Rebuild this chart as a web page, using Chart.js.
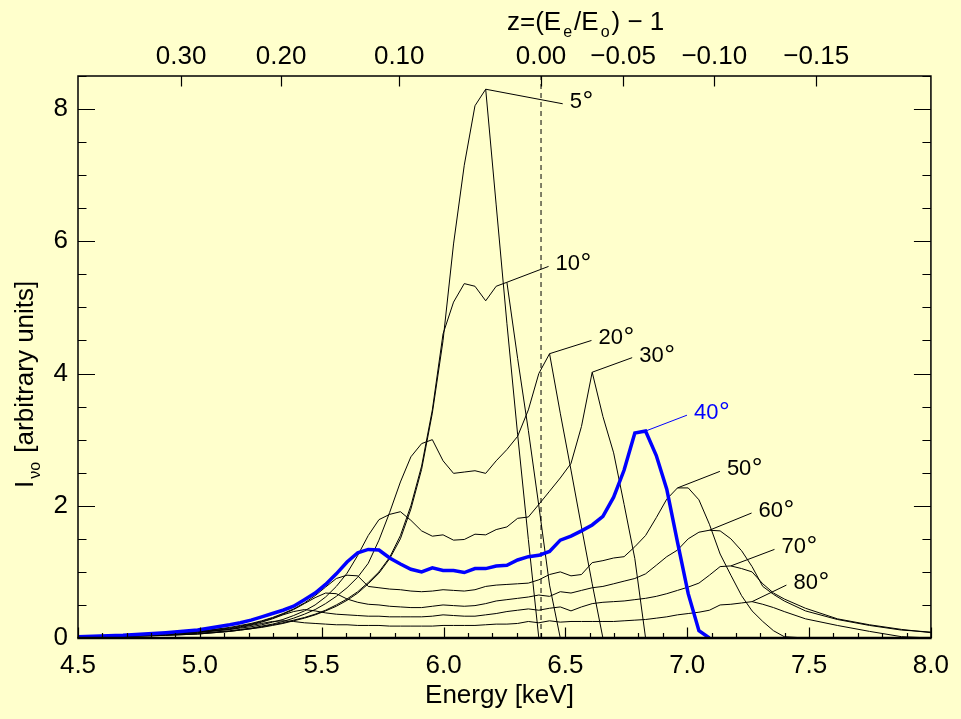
<!DOCTYPE html>
<html>
<head>
<meta charset="utf-8">
<title>Fe line profiles</title>
<script src="https://cdn.jsdelivr.net/npm/chart.js@4.4.1/dist/chart.umd.min.js"></script>
<style>
  html, body { margin: 0; padding: 0; background: #ffffcc; }
  #wrap { width: 961px; height: 719px; }
</style>
</head>
<body>
<div id="wrap"><canvas id="profiles" width="961" height="719"></canvas></div>
<script>
// energy grid [keV]
const energy = [4.5, 4.685, 4.86, 4.991,
  5.123, 5.166, 5.21, 5.254, 5.298, 5.341, 5.385, 5.429, 5.473, 5.516,
  5.56, 5.604, 5.648, 5.691, 5.735, 5.779, 5.823, 5.866, 5.91, 5.954,
  5.998, 6.041, 6.085, 6.129, 6.173, 6.216, 6.26, 6.304, 6.348, 6.391,
  6.435, 6.479, 6.523, 6.566, 6.61, 6.654, 6.698, 6.741, 6.785, 6.829,
  6.873, 6.916, 6.96, 7.004, 7.048, 7.091, 7.135, 7.179, 7.223, 7.266,
  7.31, 7.354, 7.398, 7.485, 7.616, 7.748, 7.879, 8.0];

// line intensity per inclination, each list stops where the line dies out
const deg5 = [0.01, 0.02, 0.04, 0.06,
  0.10, 0.12, 0.14, 0.16, 0.19, 0.22, 0.26, 0.30, 0.35, 0.41,
  0.48, 0.57, 0.68, 0.82, 0.98, 1.20, 1.50, 1.95, 2.55, 3.40,
  4.50, 5.96, 7.15, 8.05, 8.30, 6.55, 4.76, 3.08, 1.49, 0];
const deg10 = [0.01, 0.02, 0.04, 0.06,
  0.10, 0.12, 0.14, 0.17, 0.20, 0.23, 0.27, 0.31, 0.36, 0.42,
  0.50, 0.59, 0.70, 0.84, 1.00, 1.22, 1.55, 2.00, 2.60, 3.45,
  4.60, 5.08, 5.36, 5.32, 5.10, 5.32, 5.38, 4.23, 3.14, 2.00,
  0.80, 0];
const deg20 = [0.01, 0.03, 0.05, 0.07,
  0.11, 0.13, 0.15, 0.18, 0.21, 0.25, 0.30, 0.36, 0.43, 0.52,
  0.63, 0.76, 0.92, 1.13, 1.48, 1.90, 2.36, 2.74, 2.94, 3.00,
  2.68, 2.49, 2.51, 2.53, 2.49, 2.68, 2.85, 3.05, 3.45, 4.00,
  4.30, 3.40, 2.54, 1.68, 0.82, 0];
const deg30 = [0.01, 0.03, 0.05, 0.08,
  0.13, 0.15, 0.17, 0.20, 0.24, 0.28, 0.34, 0.41, 0.50, 0.62,
  0.78, 0.98, 1.25, 1.55, 1.79, 1.87, 1.91, 1.78, 1.62, 1.54,
  1.56, 1.48, 1.49, 1.57, 1.56, 1.64, 1.68, 1.81, 1.83, 2.02,
  2.22, 2.42, 2.64, 3.20, 4.02, 3.35, 2.80, 2.02, 1.20, 0];
const deg40 = [0.02, 0.04, 0.08, 0.12,
  0.20, 0.23, 0.27, 0.32, 0.37, 0.42, 0.48, 0.58, 0.68, 0.81,
  0.97, 1.15, 1.29, 1.34, 1.33, 1.21, 1.12, 1.04, 1.00, 1.06,
  1.02, 1.02, 0.99, 1.05, 1.05, 1.09, 1.10, 1.18, 1.23, 1.25,
  1.31, 1.48, 1.54, 1.62, 1.71, 1.84, 2.13, 2.54, 3.10, 3.13,
  2.76, 2.25, 1.45, 0.67, 0.11, 0];
const deg50 = [0.02, 0.04, 0.07, 0.10,
  0.16, 0.19, 0.22, 0.26, 0.31, 0.37, 0.44, 0.53, 0.64, 0.77,
  0.90, 0.95, 0.94, 0.78, 0.76, 0.74, 0.73, 0.71, 0.70, 0.71,
  0.73, 0.72, 0.71, 0.73, 0.78, 0.80, 0.81, 0.82, 0.83, 0.88,
  0.96, 1.00, 0.94, 0.96, 1.14, 1.17, 1.21, 1.23, 1.38, 1.55,
  1.82, 2.10, 2.27, 2.27, 2.09, 1.72, 1.27, 0.95, 0.64, 0.41,
  0.25, 0.11, 0.02, 0];
const deg60 = [0.02, 0.04, 0.07, 0.10,
  0.15, 0.18, 0.21, 0.25, 0.30, 0.36, 0.43, 0.52, 0.61, 0.68,
  0.67, 0.59, 0.54, 0.51, 0.50, 0.48, 0.47, 0.46, 0.46, 0.48,
  0.50, 0.49, 0.48, 0.49, 0.52, 0.56, 0.58, 0.60, 0.62, 0.65,
  0.63, 0.70, 0.68, 0.72, 0.76, 0.78, 0.82, 0.86, 0.90, 0.97,
  1.10, 1.23, 1.33, 1.50, 1.60, 1.63, 1.62, 1.50, 1.32, 1.08,
  0.78, 0.66, 0.56, 0.41, 0.28, 0.19, 0.12, 0.09];
const deg70 = [0.02, 0.04, 0.07, 0.09,
  0.14, 0.17, 0.20, 0.24, 0.29, 0.35, 0.40, 0.43, 0.41, 0.38,
  0.36, 0.35, 0.34, 0.33, 0.33, 0.32, 0.32, 0.32, 0.32, 0.33,
  0.35, 0.34, 0.33, 0.33, 0.35, 0.37, 0.40, 0.42, 0.44, 0.42,
  0.45, 0.47, 0.41, 0.47, 0.52, 0.54, 0.55, 0.56, 0.58, 0.60,
  0.63, 0.67, 0.72, 0.77, 0.83, 0.95, 1.08, 1.09, 1.05, 1.00,
  0.82, 0.68, 0.59, 0.45, 0.29, 0.20, 0.13, 0.08];
const deg80 = [0.02, 0.03, 0.06, 0.09,
  0.13, 0.16, 0.19, 0.22, 0.25, 0.26, 0.25, 0.23, 0.22, 0.21,
  0.20, 0.20, 0.19, 0.19, 0.19, 0.18, 0.18, 0.18, 0.18, 0.18,
  0.19, 0.19, 0.19, 0.19, 0.20, 0.21, 0.21, 0.22, 0.25, 0.23,
  0.26, 0.24, 0.25, 0.25, 0.25, 0.25, 0.25, 0.26, 0.27, 0.28,
  0.30, 0.32, 0.35, 0.37, 0.39, 0.42, 0.50, 0.51, 0.53, 0.55,
  0.51, 0.46, 0.40, 0.29, 0.19, 0.10, 0.02, 0];

const inclinations = [5, 10, 20, 30, 40, 50, 60, 70, 80];
const profiles = [deg5, deg10, deg20, deg30, deg40, deg50, deg60, deg70, deg80];

// redshift ticks of the top axis, rest energy of Fe K-alpha
const zTicks = [0.30, 0.20, 0.10, 0.00, -0.05, -0.10, -0.15];
const restEnergy = 6.4;

// where each inclination tag sits, in keV / intensity units
const tagSpots = [[6.489, 8.08], [6.431, 5.62], [6.607, 4.50], [6.774, 4.24], [6.999, 3.37],
                  [7.134, 2.52], [7.264, 1.89], [7.358, 1.34], [7.407, 0.80]];

const FONT = "'Liberation Sans', Arial, Helvetica, sans-serif";
const BLUE = '#0000ff';
Chart.defaults.font.family = FONT;
Chart.defaults.font.size = 26;
Chart.defaults.color = '#000';

function zLabel(z) {
  const s = Math.abs(z).toFixed(2);
  return z < 0 ? '\u2212' + s : s;
}

// text run with subscripts, drawn left to right from (x, y)
function drawRun(ctx, parts, x, y) {
  for (const p of parts) {
    if (p.sub) {
      ctx.font = '16px ' + FONT;
      x += 2;
      ctx.fillText(p.t, x, y + 7);
      x += ctx.measureText(p.t).width + 2;
    } else {
      ctx.font = '26px ' + FONT;
      ctx.fillText(p.t, x, y);
      x += ctx.measureText(p.t).width;
    }
  }
}

const decorations = {
  id: 'decorations',
  afterDatasetsDraw(chart) {
    const { ctx, chartArea: a, scales } = chart;
    const xs = scales.x, ys = scales.y;
    ctx.save();
    ctx.strokeStyle = '#000';
    ctx.fillStyle = '#000';

    // frame, bottom edge heavier
    ctx.lineWidth = 1.5;
    ctx.beginPath();
    ctx.moveTo(a.left, a.bottom); ctx.lineTo(a.left, a.top);
    ctx.lineTo(a.right, a.top); ctx.lineTo(a.right, a.bottom);
    ctx.stroke();
    ctx.lineWidth = 2.6;
    ctx.beginPath();
    ctx.moveTo(a.left - 0.75, a.bottom); ctx.lineTo(a.right + 0.75, a.bottom);
    ctx.stroke();

    // inward ticks
    ctx.lineWidth = 1.2;
    ctx.beginPath();
    for (let i = 0; i <= 17; i++) {
      const py = Math.round(ys.getPixelForValue(i * 0.5)) + 0.5;
      const len = i % 4 === 0 ? 17 : 8.5;
      ctx.moveTo(a.left, py); ctx.lineTo(a.left + len, py);
      ctx.moveTo(a.right, py); ctx.lineTo(a.right - len, py);
    }
    for (let i = 0; i <= 35; i++) {
      const px = Math.round(xs.getPixelForValue(4.5 + i * 0.1)) + 0.5;
      const len = i % 5 === 0 ? 10.5 : 5;
      ctx.moveTo(px, a.bottom); ctx.lineTo(px, a.bottom - len);
    }
    for (const z of zTicks) {
      const px = Math.round(xs.getPixelForValue(restEnergy / (1 + z))) + 0.5;
      ctx.moveTo(px, a.top); ctx.lineTo(px, a.top + 10.5);
    }
    ctx.stroke();

    // axis titles
    ctx.textBaseline = 'alphabetic';
    ctx.textAlign = 'center';
    ctx.font = '26px ' + FONT;
    ctx.fillText('Energy [keV]', (a.left + a.right) / 2 - 5, a.bottom + 65);
    ctx.textAlign = 'left';
    drawRun(ctx, [{ t: 'z=(E' }, { t: 'e', sub: true }, { t: '/E' }, { t: 'o', sub: true }, { t: ') \u2212 1' }],
      a.left + 429, a.top - 46);
    ctx.save();
    ctx.translate(a.left - 45, a.bottom - 150);
    ctx.rotate(-Math.PI / 2);
    drawRun(ctx, [{ t: 'I' }, { t: '\u03bdo', sub: true }, { t: ' [arbitrary units]' }], 0, 0);
    ctx.restore();

    // inclination tags with leader lines from each peak
    profiles.forEach((vals, i) => {
      let k = 0;
      vals.forEach((v, j) => { if (v > vals[k]) k = j; });
      const x0 = xs.getPixelForValue(energy[k]), y0 = ys.getPixelForValue(vals[k]);
      const x1 = xs.getPixelForValue(tagSpots[i][0]), y1 = ys.getPixelForValue(tagSpots[i][1]);
      const col = inclinations[i] === 40 ? BLUE : '#000';
      ctx.strokeStyle = col;
      ctx.fillStyle = col;
      ctx.lineWidth = 1;
      ctx.beginPath();
      ctx.moveTo(x0, y0);
      ctx.lineTo(x1, y1);
      ctx.stroke();
      const num = String(inclinations[i]);
      ctx.font = '22px ' + FONT;
      ctx.fillText(num, x1 + 7, y1 + 4);
      const w = ctx.measureText(num).width;
      ctx.font = '27px ' + FONT;
      ctx.fillText('\u00b0', x1 + 7 + w + 0.5, y1 + 6);
    });
    ctx.restore();
  }
};

const datasets = profiles.map((vals, i) => ({
  label: inclinations[i] + '\u00b0',
  data: vals.map((v, j) => ({ x: energy[j], y: v })),
  borderColor: inclinations[i] === 40 ? BLUE : '#000',
  borderWidth: inclinations[i] === 40 ? 3.5 : 1,
  order: inclinations[i] === 40 ? 0 : 1,
  pointRadius: 0,
  tension: 0,
  fill: false
}));
datasets.push({
  label: 'E0',
  data: [{ x: restEnergy, y: 0 }, { x: restEnergy, y: 8.5 }],
  borderColor: '#000',
  borderWidth: 1,
  borderDash: [5, 4],
  order: 2,
  pointRadius: 0,
  fill: false
});

new Chart(document.getElementById('profiles'), {
  type: 'line',
  data: { datasets },
  options: {
    responsive: false,
    animation: false,
    events: [],
    layout: { padding: { right: 26 } },
    plugins: { legend: { display: false }, tooltip: { enabled: false } },
    scales: {
      x: {
        type: 'linear', position: 'bottom', min: 4.5, max: 8.0,
        grid: { display: false, drawTicks: false },
        border: { display: false },
        ticks: { stepSize: 0.5, padding: 12, maxRotation: 0, autoSkip: false, callback: v => v.toFixed(1) },
        afterFit: s => { s.height = 81; }
      },
      x2: {
        type: 'linear', axis: 'x', position: 'top', min: 4.5, max: 8.0,
        grid: { display: false, drawTicks: false },
        border: { display: false },
        afterBuildTicks: s => { s.ticks = zTicks.map(z => ({ value: restEnergy / (1 + z) })); },
        ticks: { padding: 4, maxRotation: 0, autoSkip: false, callback: (v, i) => zLabel(zTicks[i]) },
        afterFit: s => { s.height = 76; }
      },
      y: {
        type: 'linear', min: 0, max: 8.5,
        grid: { display: false, drawTicks: false },
        border: { display: false },
        ticks: { stepSize: 2, padding: 10, includeBounds: false },
        afterFit: s => { s.width = 78; }
      }
    }
  },
  plugins: [decorations]
});
</script>
</body>
</html>
